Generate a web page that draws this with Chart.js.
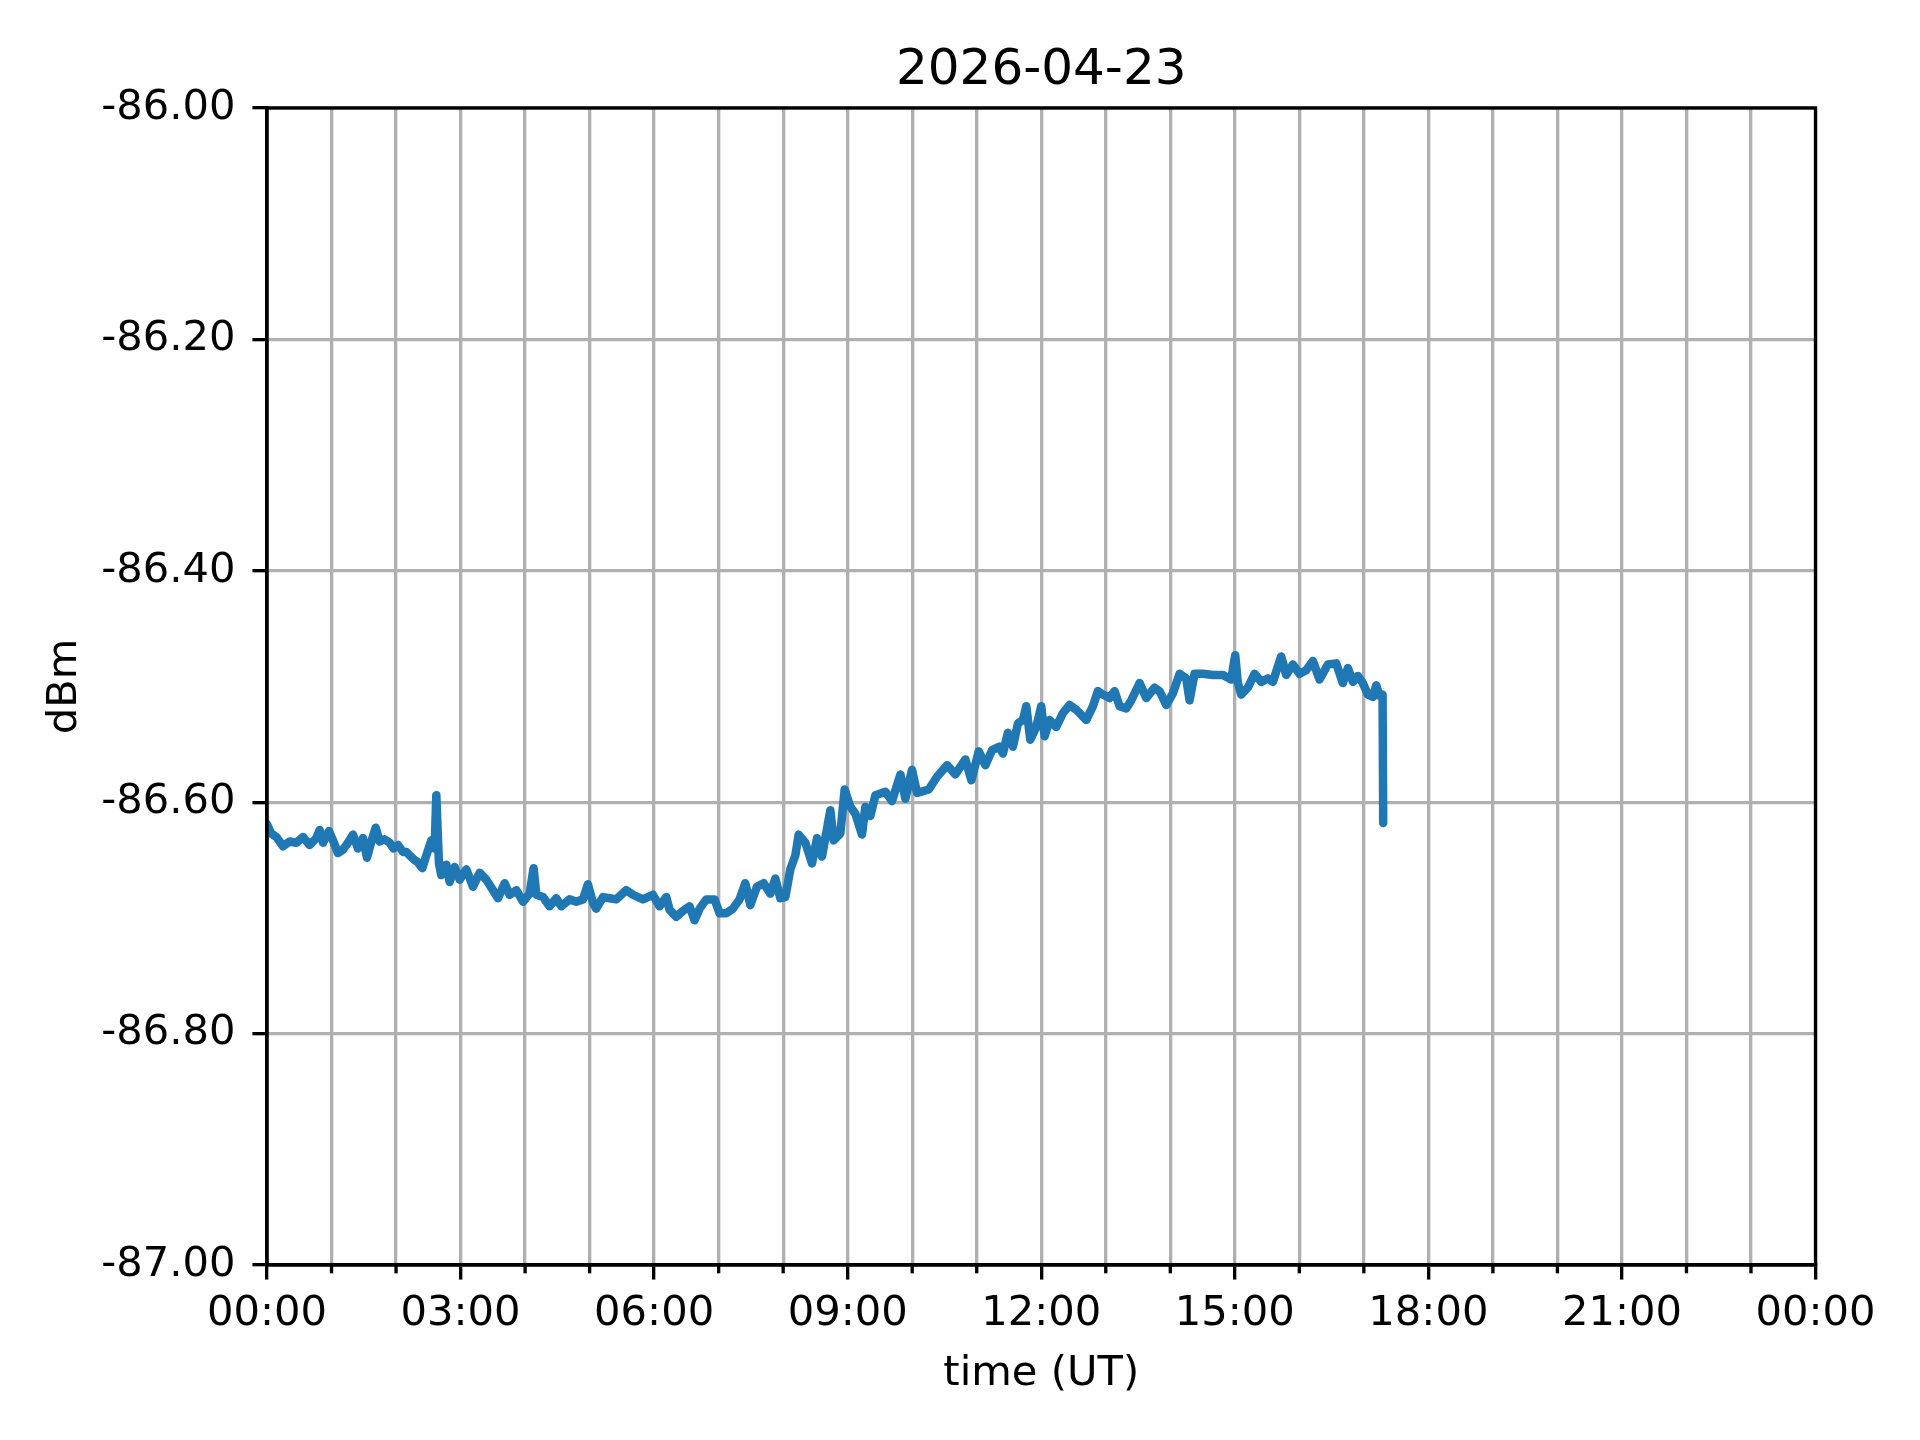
<!DOCTYPE html>
<html>
<head>
<meta charset="utf-8">
<script src="https://cdn.jsdelivr.net/npm/chart.js@4"></script>
<style>
html, body { margin: 0; padding: 0; background: #fff; }
canvas { display: block; }
</style>
</head>
<body>
<canvas id="myChart" width="1920" height="1440"></canvas>
<script>
// Signal level over one day

const chartTitle = '2026-04-23';
const xLabel = 'time (UT)';
const yLabel = 'dBm';

const yTicks = [-87.0, -86.8, -86.6, -86.4, -86.2, -86.0];                 // dBm
const xTickLabels = ['00:00', '03:00', '06:00', '09:00', '12:00', '15:00', '18:00', '21:00', '00:00']; // every 3 h

// time in hours since 00:00 UT
const hours = [
    0.000, 0.067, 0.145, 0.248, 0.351, 0.455, 0.558, 0.661, 0.764, 0.816,
    0.868, 0.961, 1.023, 1.100, 1.178, 1.255, 1.333, 1.410, 1.488, 1.550,
    1.617, 1.684, 1.746, 1.820, 1.901, 1.960, 2.030, 2.110, 2.159, 2.210,
    2.288, 2.340, 2.407, 2.469, 2.547,
    2.598, 2.624, 2.665, 2.701, 2.779, 2.831, 2.908, 2.986, 3.089, 3.192,
    3.296, 3.399, 3.502, 3.580, 3.683, 3.760, 3.864, 3.967, 4.070, 4.132,
    4.174, 4.277, 4.380, 4.483, 4.561, 4.690, 4.793, 4.897, 4.974, 5.052,
    5.103, 5.207, 5.310, 5.413, 5.568, 5.671, 5.826, 5.981, 6.085, 6.188,
    6.240, 6.343, 6.446, 6.550, 6.627, 6.705, 6.808, 6.937, 7.014, 7.118,
    7.221, 7.324, 7.413, 7.491, 7.594, 7.698, 7.801, 7.879, 7.956, 8.034,
    8.111, 8.189, 8.240, 8.344, 8.447, 8.525, 8.602, 8.731, 8.783, 8.886,
    8.953, 9.041, 9.119, 9.222, 9.274, 9.351, 9.429, 9.584, 9.687, 9.817,
    9.894, 9.997, 10.075, 10.256, 10.385, 10.540, 10.669, 10.824, 10.917, 11.031,
    11.134, 11.238, 11.354, 11.406, 11.483, 11.561, 11.638, 11.716, 11.768, 11.830,
    11.923, 12.000, 12.052, 12.129, 12.232, 12.336, 12.439, 12.542, 12.697, 12.801,
    12.878, 12.956, 13.059, 13.136, 13.214, 13.317, 13.395, 13.524, 13.627, 13.756,
    13.834, 13.937, 14.040, 14.144, 14.247, 14.299, 14.376, 14.505, 14.660, 14.815,
    14.944, 15.006, 15.047, 15.099, 15.202, 15.306, 15.409, 15.512, 15.590, 15.719,
    15.796, 15.900, 16.003, 16.106, 16.210, 16.313, 16.442, 16.571, 16.674, 16.752,
    16.830, 16.907, 16.984, 17.062, 17.140, 17.191, 17.243, 17.290, 17.300
];

// received level, dBm
const dbm = [
    -86.619, -86.627, -86.630, -86.638, -86.634, -86.635, -86.630, -86.637, -86.631, -86.624,
    -86.635, -86.625, -86.633, -86.644, -86.641, -86.635, -86.628, -86.640, -86.631, -86.648,
    -86.634, -86.622, -86.634, -86.632, -86.635, -86.640, -86.637, -86.643, -86.643, -86.646,
    -86.650, -86.652, -86.657, -86.646, -86.633,
    -86.640, -86.594, -86.653, -86.663, -86.654, -86.669, -86.656, -86.667, -86.658, -86.673,
    -86.661, -86.667, -86.676, -86.683, -86.670, -86.680, -86.676, -86.686, -86.679, -86.657,
    -86.680, -86.682, -86.690, -86.683, -86.690, -86.684, -86.686, -86.684, -86.671, -86.687,
    -86.692, -86.682, -86.683, -86.684, -86.676, -86.680, -86.684, -86.680, -86.690, -86.682,
    -86.693, -86.699, -86.694, -86.690, -86.702, -86.692, -86.684, -86.684, -86.696, -86.696,
    -86.692, -86.684, -86.670, -86.689, -86.673, -86.670, -86.679, -86.666, -86.683, -86.682,
    -86.658, -86.646, -86.628, -86.635, -86.653, -86.631, -86.647, -86.607, -86.633, -86.627,
    -86.589, -86.604, -86.610, -86.628, -86.604, -86.612, -86.594, -86.591, -86.599, -86.576,
    -86.597, -86.572, -86.592, -86.589, -86.578, -86.568, -86.576, -86.563, -86.581, -86.556,
    -86.568, -86.555, -86.552, -86.558, -86.540, -86.552, -86.532, -86.529, -86.517, -86.546,
    -86.535, -86.517, -86.543, -86.529, -86.535, -86.523, -86.516, -86.520, -86.529, -86.517,
    -86.504, -86.507, -86.510, -86.504, -86.517, -86.519, -86.512, -86.497, -86.510, -86.501,
    -86.504, -86.516, -86.506, -86.489, -86.493, -86.512, -86.489, -86.489, -86.490, -86.490,
    -86.494, -86.473, -86.497, -86.507, -86.501, -86.489, -86.496, -86.493, -86.496, -86.474,
    -86.490, -86.481, -86.489, -86.486, -86.478, -86.494, -86.481, -86.480, -86.497, -86.484,
    -86.496, -86.491, -86.497, -86.507, -86.509, -86.499, -86.508, -86.507, -86.618
];

const PT = 300 / 72;   // points -> pixels at 300 dpi

// top/right spines, minor x ticks and the centred title
const framePlugin = {
    id: 'frame',
    afterDatasetsDraw(chart) {
        const {ctx, chartArea: a, scales: {x}} = chart;
        ctx.save();
        ctx.strokeStyle = '#000';
        ctx.lineWidth = 0.8 * PT;
        ctx.strokeRect(a.left, a.top, a.right - a.left, a.bottom - a.top);
        x.ticks.forEach(t => {
            if (t.value % 3 === 0) return;
            const px = x.getPixelForValue(t.value);
            ctx.beginPath();
            ctx.moveTo(px, a.bottom);
            ctx.lineTo(px, a.bottom + 2 * PT);
            ctx.stroke();
        });
        ctx.fillStyle = '#000';
        ctx.font = (12 * PT) + 'px "DejaVu Sans"';
        ctx.textAlign = 'center';
        ctx.textBaseline = 'alphabetic';
        ctx.fillText(chartTitle, (a.left + a.right) / 2, 84);
        ctx.restore();
    }
};

Chart.defaults.font.family = '"DejaVu Sans", sans-serif';
Chart.defaults.font.size = 10 * PT;
Chart.defaults.color = '#000';

const ctx = document.getElementById('myChart');
const myChart = new Chart(ctx, {
    type: 'line',
    data: {
        datasets: [{
            data: hours.map((h, i) => ({x: h, y: dbm[i]})),
            borderColor: '#1f77b4',
            borderWidth: 8.5,           // a bit wider than 1.5pt: the original trace is a dense noisy band
            borderJoinStyle: 'round',
            borderCapStyle: 'round',
            pointRadius: 0,
            tension: 0,
            fill: false
        }]
    },
    options: {
        responsive: false,
        animation: false,
        devicePixelRatio: 1,
        layout: {
            padding: {top: 108, right: 104.5, bottom: 0, left: 0}
        },
        plugins: {
            legend: {display: false},
            title: {display: false},
            tooltip: {enabled: false}
        },
        scales: {
            x: {
                type: 'linear',
                min: 0,
                max: 24,
                afterBuildTicks: scale => {
                    const t = [];
                    for (let h = 0; h <= 24; h++) t.push({value: h});
                    scale.ticks = t;
                },
                afterFit: scale => { scale.height = 175; },
                ticks: {
                    autoSkip: false,
                    maxRotation: 0,
                    padding: 10,
                    callback: v => (v % 3 === 0 ? xTickLabels[v / 3] : '')
                },
                grid: {
                    color: '#b0b0b0',
                    lineWidth: 0.8 * PT,
                    tickLength: 3.5 * PT,
                    tickWidth: 0.8 * PT,
                    tickColor: c => (c.tick && c.tick.value % 3 === 0 ? '#000' : 'rgba(0,0,0,0)')
                },
                border: {color: '#000', width: 0.8 * PT},
                title: {
                    display: true,
                    text: xLabel,
                    padding: {top: 0, bottom: 41}
                }
            },
            y: {
                min: -87,
                max: -86,
                afterBuildTicks: scale => {
                    scale.ticks = yTicks.map(v => ({value: v}));
                },
                afterFit: scale => { scale.width = 267; },
                ticks: {
                    padding: 17,
                    callback: v => v.toFixed(2)
                },
                grid: {
                    color: '#b0b0b0',
                    lineWidth: 0.8 * PT,
                    tickLength: 3.5 * PT,
                    tickWidth: 0.8 * PT,
                    tickColor: '#000'
                },
                border: {color: '#000', width: 0.8 * PT},
                title: {
                    display: true,
                    text: yLabel,
                    padding: {top: 40.5, bottom: 0}
                }
            }
        }
    },
    plugins: [framePlugin]
});
</script>
</body>
</html>
